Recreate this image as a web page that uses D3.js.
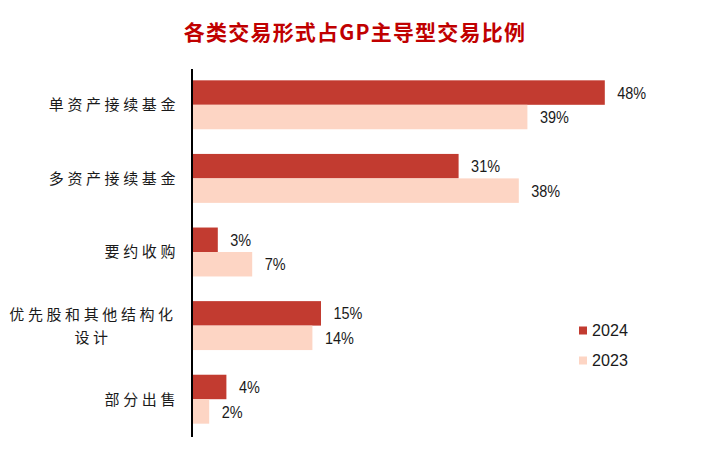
<!DOCTYPE html>
<html><head><meta charset="utf-8">
<script src="https://cdn.jsdelivr.net/npm/d3@7/dist/d3.min.js"></script>
<style>
body{margin:0;background:#fff;}
svg{display:block;}
</style></head>
<body>
<svg id="chart" width="711" height="460"></svg>
<script>
const titleText = "各类交易形式占GP主导型交易比例";
const categories = ["单资产接续基金", "多资产接续基金", "要约收购", "优先股和其他结构化\n设计", "部分出售"];
const seriesNames = ["2024", "2023"];
const values2024 = [48, 31, 3, 15, 4];
const values2023 = [39, 38, 7, 14, 2];
const colors = ["#c23b30", "#fdd5c4"];

const svg = d3.select("#chart");
const axisX = 192;

const x = d3.scaleLinear().domain([0, 50]).range([axisX, axisX + 430]);
const y0 = d3.scaleBand().domain(categories).range([68, 436]).paddingInner(0.335).paddingOuter(0.1675);
const y1 = d3.scaleBand().domain(seriesNames).range([0, y0.bandwidth()]);

const seriesValues = {"2024": values2024, "2023": values2023};

// title
svg.append("text")
  .attr("x", 355).attr("y", 40)
  .attr("text-anchor", "middle")
  .attr("font-family", "'Noto Sans CJK SC', sans-serif")
  .attr("font-weight", "bold")
  .attr("font-size", 21)
  .attr("letter-spacing", "1.2px")
  .attr("fill", "#c00000")
  .text(titleText);

const labelFont = "'Liberation Sans', Arial, sans-serif";

// bars
seriesNames.forEach((s, si) => {
  const g = svg.append("g");
  categories.forEach((c, ci) => {
    const v = seriesValues[s][ci];
    const yy = y0(c) + y1(s);
    g.append("rect")
      .attr("x", x(0)).attr("y", yy)
      .attr("width", x(v) - x(0)).attr("height", y1.bandwidth())
      .attr("fill", colors[si]);
    g.append("text")
      .attr("transform", `translate(${x(v) + 12.5},${yy + y1.bandwidth() / 2}) scale(0.85,1)`)
      .attr("dy", "0.36em")
      .attr("font-family", labelFont)
      .attr("font-size", 17)
      .attr("fill", "#1a1a1a")
      .text(v + "%");
  });
});

// axis line
svg.append("line")
  .attr("x1", axisX).attr("x2", axisX)
  .attr("y1", 69).attr("y2", 437)
  .attr("stroke", "#000").attr("stroke-width", 2);

// category labels
categories.forEach(c => {
  const lines = c.split("\n");
  const cy = y0(c) + y0.bandwidth() / 2;
  const lh = 23;
  const t = svg.append("text")
    .attr("font-family", "'Noto Sans CJK SC', sans-serif")
    .attr("font-size", 15)
    .attr("letter-spacing", "3.6px")
    .attr("fill", "#1a1a1a");
  if (lines.length === 1) {
    t.attr("x", 179).attr("y", cy).attr("dy", "0.36em").attr("text-anchor", "end").text(c);
  } else {
    const cx = 93;
    lines.forEach((ln, i) => {
      t.append("tspan")
        .attr("x", cx)
        .attr("y", cy + (i - (lines.length - 1) / 2) * lh)
        .attr("dy", "0.36em")
        .attr("text-anchor", "middle")
        .text(ln);
    });
  }
});

// legend
seriesNames.forEach((s, i) => {
  const ly = 330 + i * 30;
  svg.append("rect")
    .attr("x", 579).attr("y", ly - 3.5).attr("width", 8).attr("height", 8)
    .attr("fill", colors[i]);
  svg.append("text")
    .attr("transform", `translate(592,${ly}) scale(0.95,1)`)
    .attr("dy", "0.36em")
    .attr("font-family", labelFont)
    .attr("font-size", 17)
    .attr("fill", "#1a1a1a")
    .text(s);
});
</script>
</body></html>
